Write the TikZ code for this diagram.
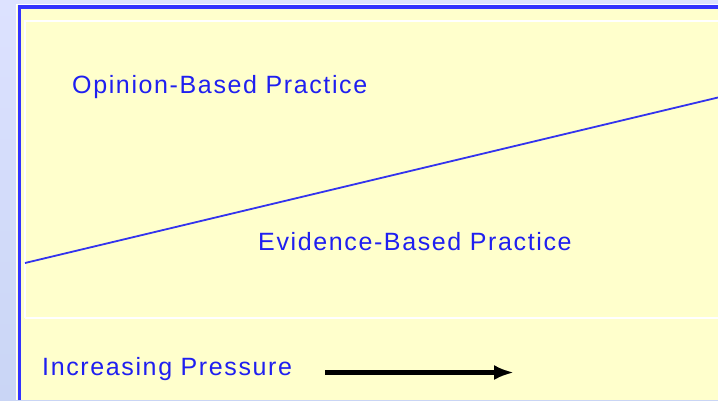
\documentclass[tikz,border=0pt]{standalone}
\usepackage{fontspec}
\setmainfont{Liberation Sans}
\usetikzlibrary{arrows.meta}
\definecolor{bgyellow}{HTML}{FFFFCC}
\definecolor{lavtop}{HTML}{DDE2FF}
\definecolor{lavbot}{HTML}{C9D5F5}
\definecolor{borderblue}{HTML}{3333FF}
\definecolor{txtblue}{HTML}{1F1FF0}
\definecolor{lineblue}{HTML}{3333EE}
\tikzset{
  lbl/.style={anchor=base west, inner sep=0pt, text=txtblue,
    font=\fontsize{25pt}{28pt}\selectfont\addfontfeature{LetterSpace=6.5}},
}
\begin{document}
\begin{tikzpicture}[x=1pt,y=-1pt]
\useasboundingbox (0,0) rectangle (718,400);
% outer lavender background
\shade[top color=lavtop, bottom color=lavbot] (0,0) rectangle (718,400);
% yellow panel
\fill[bgyellow] (17,5) rectangle (718,400);
% white edge outside border
\draw[white, line width=1.5pt] (16.5,400) -- (16.5,4.5) -- (718,4.5);
% blue border
\draw[borderblue, line width=3.5pt] (19.5,400) -- (19.5,7) -- (718,7);
% inner white frame lines
\draw[white, line width=2pt] (25,318) -- (25,20.5) -- (718,20.5);
\draw[white, line width=2pt] (25,318) -- (718,318);
% dividing line
\coordinate (L) at (25,263);
\coordinate (R) at (718,97.5);
\draw[lineblue, line width=1.8pt] (L) -- (R);
% labels
\node[lbl] (opinion) at (72,93) {Opinion-Based Practice};
\node[lbl] (evidence) at (258,250) {Evidence-Based Practice};
\node[lbl] (pressure) at (42,375) {Increasing Pressure};
% arrow
\coordinate (a0) at (325,372.5);
\coordinate (a1) at (514,372.5);
\draw[black, line width=5pt, -{Latex[length=20pt,width=15pt]}] (a0) -- (a1);
\end{tikzpicture}
\end{document}
